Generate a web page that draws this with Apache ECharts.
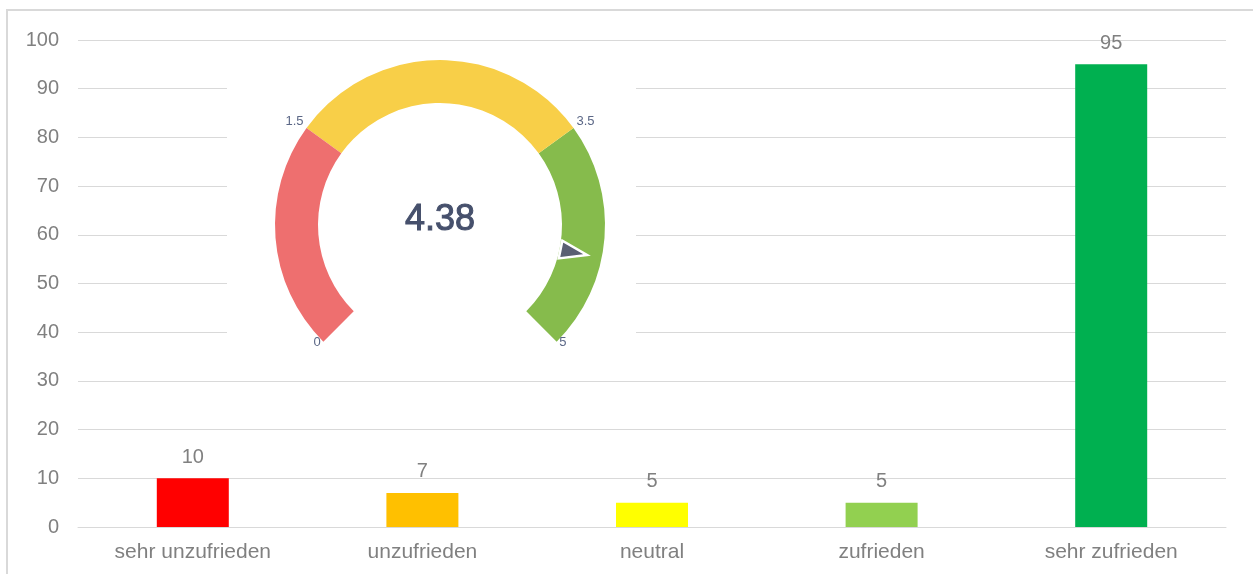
<!DOCTYPE html>
<html>
<head>
<meta charset="utf-8">
<script src="https://cdn.jsdelivr.net/npm/echarts@6/dist/echarts.min.js"></script>
<style>
html,body{margin:0;padding:0;background:#fff;}
#chart{width:1253px;height:574px;}
</style>
</head>
<body>
<div id="chart"></div>
<script>
// ---- data ----
const categories = ['sehr unzufrieden', 'unzufrieden', 'neutral', 'zufrieden', 'sehr zufrieden'];
const counts = [10, 7, 5, 5, 95];
const barColors = ['#FF0000', '#FFC000', '#FFFF00', '#92D050', '#00B050'];
const gaugeValue = [4.38];
const gaugeMin = 0;
const gaugeMax = 5;
const gaugeBands = [1.5, 3.5, 5];
const gaugeBandColors = ['#EE6F6F', '#F8CF48', '#86BB4C'];
const gaugeOuterLabels = [0, 5];
const gaugeInnerLabels = [1.5, 3.5];

const chart = echarts.init(document.getElementById('chart'), null, {renderer: 'canvas'});
const textGray = '#808080';
const gridGray = '#d9d9d9';
const FONT = 'Liberation Sans, Arial, sans-serif';

const bandStops = gaugeBands.map((v, i) => [(v - gaugeMin) / (gaugeMax - gaugeMin), gaugeBandColors[i]]);
const approxIn = (v, list) => list.some(x => Math.abs(x - v) < 1e-6);

const option = {
  animation: false,
  graphic: [
    { type: 'rect', z: 0, silent: true,
      shape: { x: 7, y: 10, width: 1300, height: 700 },
      style: { fill: 'none', stroke: gridGray, lineWidth: 2 } },
    { type: 'rect', z: 1, silent: true,
      shape: { x: 227, y: 50, width: 409, height: 300 },
      style: { fill: '#ffffff' } }
  ],
  grid: { left: 78, right: 27, top: 40, bottom: 47, containLabel: false },
  xAxis: {
    type: 'category',
    data: categories,
    axisLine: { show: true, lineStyle: { color: gridGray, width: 1 } },
    axisTick: { show: false },
    axisLabel: { color: textGray, fontSize: 21, fontFamily: FONT, margin: 15 }
  },
  yAxis: {
    type: 'value',
    min: 0, max: 100, interval: 10,
    axisLine: { show: false },
    axisTick: { show: false },
    splitLine: { lineStyle: { color: gridGray, width: 1 } },
    axisLabel: { color: textGray, fontSize: 20, fontFamily: FONT, margin: 19 }
  },
  series: [
    {
      type: 'bar',
      z: 2,
      barWidth: 72,
      data: counts.map((v, i) => ({ value: v, itemStyle: { color: barColors[i] } })),
      label: { show: true, position: 'top', distance: 11, color: textGray, fontSize: 20, fontFamily: FONT }
    },
    {
      type: 'gauge',
      z: 3,
      center: [440, 225],
      radius: 165,
      startAngle: 225,
      endAngle: -45,
      min: gaugeMin, max: gaugeMax,
      splitNumber: 10,
      axisLine: { lineStyle: { width: 43, color: bandStops } },
      progress: { show: false },
      axisTick: { show: false },
      splitLine: { show: false, length: 0, distance: 0 },
      axisLabel: {
        show: true, distance: -14, fontSize: 13, fontFamily: FONT, color: '#5B6786',
        lineHeight: 18,
        formatter: v => approxIn(v, gaugeOuterLabels) ? String(v) + '\n ' : ''
      },
      pointer: {
        show: true, icon: 'triangle', length: 27, width: 18, offsetCenter: [0, -123],
        itemStyle: { color: '#5A5F72', borderColor: '#ffffff', borderWidth: 2.5 }
      },
      anchor: { show: false },
      title: { show: false },
      detail: {
        show: true, valueAnimation: false, offsetCenter: [0, -5],
        fontSize: 36, fontWeight: 'normal', fontFamily: FONT, color: '#46506C',
        textBorderColor: '#46506C', textBorderWidth: 1,
        formatter: v => String(v)
      },
      data: gaugeValue.map(v => ({ value: v }))
    },
    {
      type: 'gauge',
      z: 3,
      center: [440, 225],
      radius: 165,
      startAngle: 225,
      endAngle: -45,
      min: gaugeMin, max: gaugeMax,
      splitNumber: 10,
      axisLine: { show: false },
      progress: { show: false },
      axisTick: { show: false },
      splitLine: { show: false, length: 0, distance: 0 },
      axisLabel: {
        show: true, distance: -26, fontSize: 13, fontFamily: FONT, color: '#5B6786',
        lineHeight: 18,
        formatter: v => approxIn(v, gaugeInnerLabels) ? ' \n' + String(v) : ''
      },
      pointer: { show: false },
      anchor: { show: false },
      title: { show: false },
      detail: { show: false },
      data: []
    }
  ]
};
chart.setOption(option);
</script>
</body>
</html>
